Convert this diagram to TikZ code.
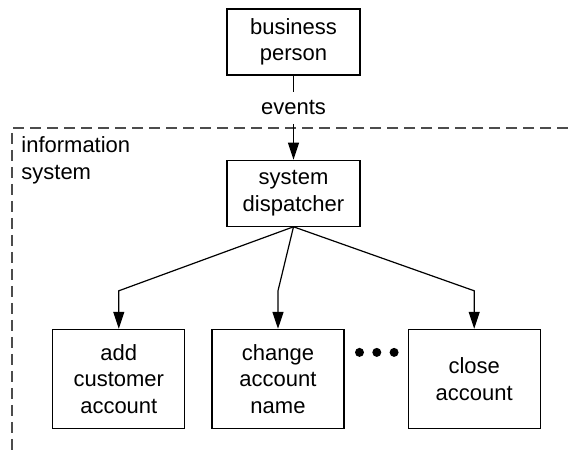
\documentclass[tikz,border=0pt]{standalone}
\usepackage{fontspec}
\setmainfont{Liberation Sans}
\usetikzlibrary{arrows.meta,positioning,calc}

\begin{document}
\begin{tikzpicture}[
    node distance=42pt and 13pt,
    box/.style={rectangle, draw, line width=0.6pt, minimum width=66.5pt, minimum height=33pt, align=center, inner sep=2pt, font=\fontsize{11pt}{13.3pt}\selectfont},
    bigbox/.style={box, minimum width=66pt, minimum height=49.5pt},
    tag/.style={inner sep=0pt, minimum height=15.5pt, align=left, font=\fontsize{11pt}{13.3pt}\selectfont},
    arrow/.style={-{Triangle[length=8.5pt, width=5.5pt]}, line width=0.6pt},
    link/.style={line width=0.6pt},
    boundary/.style={dash pattern=on 5.5pt off 3pt, line width=0.7pt, black!70},
    dot/.style={circle, fill, inner sep=0pt, minimum size=4.5pt},
]
\useasboundingbox (-146.75pt,21pt) rectangle (137.25pt,-205.5pt);

% actor outside the system
\node[box] (person) {business\\person};
\node[tag, below=8.25pt of person] (events) {events};

% system boundary
\coordinate (frameR) at (137.25pt,-43pt);
\coordinate (frameTL) at (-140.75pt,-43pt);
\coordinate (frameBL) at (-140.75pt,-205.5pt);
\draw[boundary] (frameR) -- (frameTL) -- (frameBL);
\node[tag, anchor=west] (infosys) at ($(frameTL)+(4.5pt,-16.25pt)$) {information\\system};

% dispatcher
\node[box, below=42pt of person] (disp) {system\\dispatcher};

% handlers
\node[bigbox, below=51pt of disp, xshift=-7.75pt] (change) {change\\account\\name};
\node[bigbox, left=of change] (add) {add\\customer\\account};
\node[bigbox, right=31.5pt of change] (close) {close\\account};

% more handlers
\node[dot, right=5pt of change.east, yshift=13.25pt] (dot1) {};
\node[dot, right=3.75pt of dot1] (dot2) {};
\node[dot, right=3.75pt of dot2] (dot3) {};

% Arrows
\draw[link] (person) -- (events);
\draw[arrow] (events) -- (disp);
\draw[arrow] (disp.south) -- ($(add.north)+(0,19pt)$) -- (add.north);
\draw[arrow] (disp.south) -- ($(change.north)+(0,19pt)$) -- (change.north);
\draw[arrow] (disp.south) -- ($(close.north)+(0,19pt)$) -- (close.north);
\end{tikzpicture}
\end{document}
